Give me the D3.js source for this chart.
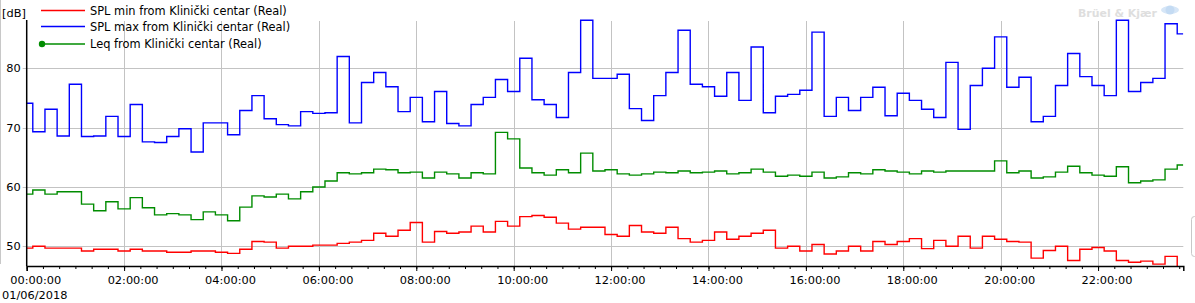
<!DOCTYPE html>
<html>
<head>
<meta charset="utf-8">
<script src="https://cdn.jsdelivr.net/npm/d3@7"></script>
<style>
    body { margin: 0; background: #fff; }
    svg { display: block; font-family: "DejaVu Sans", sans-serif; }
    .axis-label { font-family: "DejaVu Sans", sans-serif; font-size: 12px; fill: #000; }
    .legend-label { font-family: "DejaVu Sans", sans-serif; font-size: 12px; fill: #000; }
    .logo { font-family: "DejaVu Sans", sans-serif; font-weight: bold; font-size: 11px; fill: #dedede; }
</style>
</head>
<body>
<div id="chart-area"></div>
<script>
// 15 minute values, 00:00 .. 23:45
var splMin = [
    49.7, 50.0, 49.7, 49.7, 49.7, 49.2, 49.5, 49.5, 49.2, 49.5,
    49.2, 49.2, 49.0, 49.0, 49.2, 49.2, 49.0, 48.8, 49.5, 50.8,
    50.7, 49.7, 50.0, 50.0, 50.2, 50.2, 50.5, 50.7, 51.0, 52.2,
    51.7, 52.7, 54.0, 50.7, 52.5, 52.2, 52.4, 53.4, 52.4, 54.2,
    53.4, 55.0, 55.2, 54.9, 53.9, 52.9, 53.2, 53.2, 52.0, 51.7,
    53.5, 52.4, 52.2, 53.2, 51.3, 50.7, 51.0, 52.4, 51.2, 51.7,
    52.2, 52.7, 49.7, 50.0, 49.2, 50.3, 48.7, 49.2, 50.0, 49.2,
    50.8, 50.3, 50.8, 51.3, 49.6, 51.0, 50.0, 51.7, 49.7, 51.7,
    51.2, 50.8, 50.7, 48.0, 49.3, 50.0, 47.6, 49.5, 49.8, 49.2,
    47.6, 47.3, 47.5, 47.0, 48.3, 46.0
];

var splMax = [
    74.1, 69.3, 73.1, 68.6, 77.3, 68.5, 68.6, 71.9, 68.5, 73.9,
    67.6, 67.5, 68.5, 69.8, 65.9, 70.8, 70.8, 68.8, 72.9, 75.4,
    71.5, 70.5, 70.3, 72.7, 72.4, 72.5, 82.0, 70.8, 77.6, 79.3,
    76.9, 72.7, 75.1, 71.0, 76.1, 70.7, 70.3, 73.9, 75.1, 78.1,
    76.1, 81.7, 74.7, 73.9, 71.7, 79.3, 88.1, 78.3, 78.3, 79.0,
    73.2, 71.2, 75.4, 79.3, 86.4, 77.3, 76.9, 75.3, 79.3, 74.6,
    83.6, 72.5, 75.3, 75.6, 76.3, 86.1, 71.9, 75.1, 72.9, 75.1,
    76.8, 72.0, 75.8, 74.6, 73.1, 71.7, 81.0, 69.7, 77.1, 80.0,
    85.3, 76.8, 78.5, 71.0, 71.9, 77.1, 82.5, 78.6, 77.1, 75.4,
    88.1, 76.1, 77.6, 78.3, 87.5, 85.8
];

var leq = [
    58.8, 59.5, 58.8, 59.2, 59.2, 57.1, 56.0, 57.5, 56.3, 58.2,
    56.5, 55.3, 55.5, 55.3, 54.5, 55.8, 55.3, 54.3, 56.6, 58.5,
    58.3, 58.8, 58.0, 59.2, 60.0, 61.0, 62.4, 62.2, 62.4, 63.0,
    62.9, 62.4, 62.5, 61.5, 62.5, 62.2, 61.5, 62.4, 62.2, 69.2,
    68.1, 63.2, 62.4, 62.0, 62.9, 62.4, 65.7, 62.7, 62.9, 62.2,
    62.0, 62.2, 62.5, 62.4, 62.7, 62.4, 62.5, 62.7, 62.2, 62.4,
    63.0, 62.5, 61.8, 62.0, 61.8, 62.5, 61.5, 61.7, 62.4, 62.2,
    62.9, 62.7, 62.5, 62.2, 62.7, 62.5, 62.7, 62.7, 62.7, 62.7,
    64.4, 62.4, 62.7, 61.5, 61.7, 62.5, 63.5, 62.4, 62.0, 61.8,
    63.4, 60.7, 61.0, 61.2, 63.0, 63.7
];

var seriesNames = [
    "SPL min from Klinički centar (Real)",
    "SPL max from Klinički centar (Real)",
    "Leq from Klinički centar (Real)"
];
var seriesColors = ["#ff0000", "#0000ff", "#008c00"];

var timeTicks = ["00:00:00", "02:00:00", "04:00:00", "06:00:00", "08:00:00", "10:00:00",
    "12:00:00", "14:00:00", "16:00:00", "18:00:00", "20:00:00", "22:00:00"];
var yTicks = [50, 60, 70, 80];
var dateLabel = "01/06/2018";
var stepMinutes = 15;


// scale a text selection's font so that its first node has the wanted width
function fitFont(sel, targetWidth) {
    var node = sel.node();
    var base = parseFloat(getComputedStyle(node).fontSize);
    var w = node.getComputedTextLength();
    if (w > 0) {
        sel.style("font-size", (base * targetWidth / w).toFixed(2) + "px");
    }
}


LevelChart = function(_parentElement, _series) {
    this.parentElement = _parentElement;
    this.series = _series;

    this.initVis();
};

LevelChart.prototype.initVis = function() {
    var vis = this;

    vis.width = 1195;
    vis.height = 303;
    vis.plot = { left: 26.7, right: 1183.3, top: 20, bottom: 266 };

    vis.svg = d3.select("#" + vis.parentElement).append("svg")
        .attr("width", vis.width)
        .attr("height", vis.height);

    // Scales (x in minutes from midnight)
    vis.x = d3.scaleLinear()
        .domain([0, (splMax.length - 1) * stepMinutes])
        .range([vis.plot.left, vis.plot.right]);

    vis.y = d3.scaleLinear()
        .domain([46.68, 88.14])
        .range([vis.plot.bottom, vis.plot.top]);

    vis.svg.append("clipPath")
        .attr("id", "plot-clip")
        .append("rect")
        .attr("x", vis.plot.left)
        .attr("y", vis.plot.top - 1)
        .attr("width", vis.plot.right - vis.plot.left)
        .attr("height", vis.plot.bottom - vis.plot.top + 1);

    // window border on the left
    vis.svg.append("line")
        .attr("x1", 0.5).attr("x2", 0.5)
        .attr("y1", 0).attr("y2", 264)
        .attr("stroke", "#c8c8c8");

    // Gridlines
    vis.svg.append("g")
        .selectAll("line")
        .data(yTicks)
        .enter()
        .append("line")
        .attr("x1", vis.plot.left - 4)
        .attr("x2", vis.plot.right)
        .attr("y1", function(d) { return Math.round(vis.y(d)) + 0.5; })
        .attr("y2", function(d) { return Math.round(vis.y(d)) + 0.5; })
        .attr("stroke", "#c3c3c3");

    vis.svg.append("g")
        .selectAll("line")
        .data(timeTicks.slice(1))
        .enter()
        .append("line")
        .attr("x1", function(d, i) { return Math.round(vis.x((i + 1) * 120)) + 0.5; })
        .attr("x2", function(d, i) { return Math.round(vis.x((i + 1) * 120)) + 0.5; })
        .attr("y1", vis.plot.top + 1)
        .attr("y2", vis.plot.bottom)
        .attr("stroke", "#c3c3c3");

    // Logo
    var logo = vis.svg.append("text")
        .attr("class", "logo")
        .attr("x", 1078)
        .attr("y", 17)
        .text("Brüel & Kjær");
    fitFont(logo, 79);

    var globe = vis.svg.append("g").attr("transform", "translate(1170,10)");
    globe.append("ellipse").attr("rx", 9).attr("ry", 4).attr("fill", "#d6e6f7");
    globe.append("circle").attr("r", 4.5).attr("fill", "#c4dbf3");

    // scrollbar stub at right edge
    vis.svg.append("rect")
        .attr("x", 1191.5).attr("y", 216.5)
        .attr("width", 10).attr("height", 40)
        .attr("rx", 3)
        .attr("fill", "#fff")
        .attr("stroke", "#c8c8c8");

    // Lines
    vis.line = d3.line()
        .x(function(d, i) { return vis.x(i * stepMinutes); })
        .y(function(d) { return vis.y(d); })
        .curve(d3.curveStep);

    vis.wrangleData();
};

LevelChart.prototype.wrangleData = function() {
    var vis = this;

    vis.displayData = vis.series;

    vis.updateVis();
};

LevelChart.prototype.updateVis = function() {
    var vis = this;

    vis.svg.append("g")
        .attr("clip-path", "url(#plot-clip)")
        .selectAll("path")
        .data(vis.displayData)
        .enter()
        .append("path")
        .attr("d", function(d) { return vis.line(d.values); })
        .attr("fill", "none")
        .attr("stroke", function(d) { return d.color; })
        .attr("stroke-width", 1.4);

    // Axes
    var xAxis = d3.axisBottom(vis.x)
        .tickValues(timeTicks.map(function(d, i) { return i * 120; }))
        .tickSize(5)
        .tickFormat(function(d, i) { return timeTicks[i]; });

    var xMinor = d3.axisBottom(vis.x)
        .tickValues(d3.range(0, vis.x.domain()[1] + 1, 20))
        .tickSize(3)
        .tickFormat("");

    vis.svg.append("g")
        .attr("transform", "translate(0," + vis.plot.bottom + ")")
        .call(xMinor)
        .call(function(g) { g.select(".domain").remove(); });

    var gx = vis.svg.append("g")
        .attr("transform", "translate(0," + vis.plot.bottom + ")")
        .call(xAxis);
    gx.select(".domain").attr("stroke-width", 1.5);
    var xLabels = gx.selectAll("text")
        .attr("class", "axis-label")
        .attr("dx", 8.5)
        .attr("dy", 0)
        .attr("y", 18);
    fitFont(xLabels, 51);
    var labelSize = xLabels.style("font-size");

    var gy = vis.svg.append("g")
        .attr("transform", "translate(" + vis.plot.left + ",0)")
        .call(d3.axisLeft(vis.y).tickValues(yTicks).tickSize(0).tickPadding(6));
    gy.select(".domain").attr("d", "M0," + vis.plot.top + "V" + vis.plot.bottom).attr("stroke-width", 1.5);
    gy.selectAll("text")
        .attr("class", "axis-label")
        .style("font-size", labelSize);

    vis.svg.append("text")
        .attr("class", "axis-label")
        .attr("x", 2)
        .attr("y", 16.5)
        .style("font-size", labelSize)
        .text("[dB]");

    vis.svg.append("text")
        .attr("class", "axis-label")
        .attr("x", 2)
        .attr("y", 299)
        .style("font-size", labelSize)
        .text(dateLabel);

    // Legend
    var legend = vis.svg.append("g").attr("class", "legend");
    var rowY = [10, 26, 43.5];

    legend.selectAll("line")
        .data(vis.displayData)
        .enter()
        .append("line")
        .attr("x1", 41)
        .attr("x2", 85)
        .attr("y1", function(d, i) { return rowY[i] + 0.5; })
        .attr("y2", function(d, i) { return rowY[i] + 0.5; })
        .attr("stroke", function(d) { return d.color; })
        .attr("stroke-width", 1.4);

    legend.append("circle")
        .attr("cx", 42)
        .attr("cy", rowY[2] + 0.5)
        .attr("r", 3.2)
        .attr("fill", seriesColors[2]);

    var legendText = legend.selectAll("text")
        .data(vis.displayData)
        .enter()
        .append("text")
        .attr("class", "legend-label")
        .attr("x", 90)
        .attr("y", function(d, i) { return rowY[i] + 4.5; })
        .text(function(d) { return d.name; });
    fitFont(legendText, 197);
};

var chart = new LevelChart("chart-area", [
    { name: seriesNames[0], color: seriesColors[0], values: splMin },
    { name: seriesNames[1], color: seriesColors[1], values: splMax },
    { name: seriesNames[2], color: seriesColors[2], values: leq }
]);
</script>
</body>
</html>
